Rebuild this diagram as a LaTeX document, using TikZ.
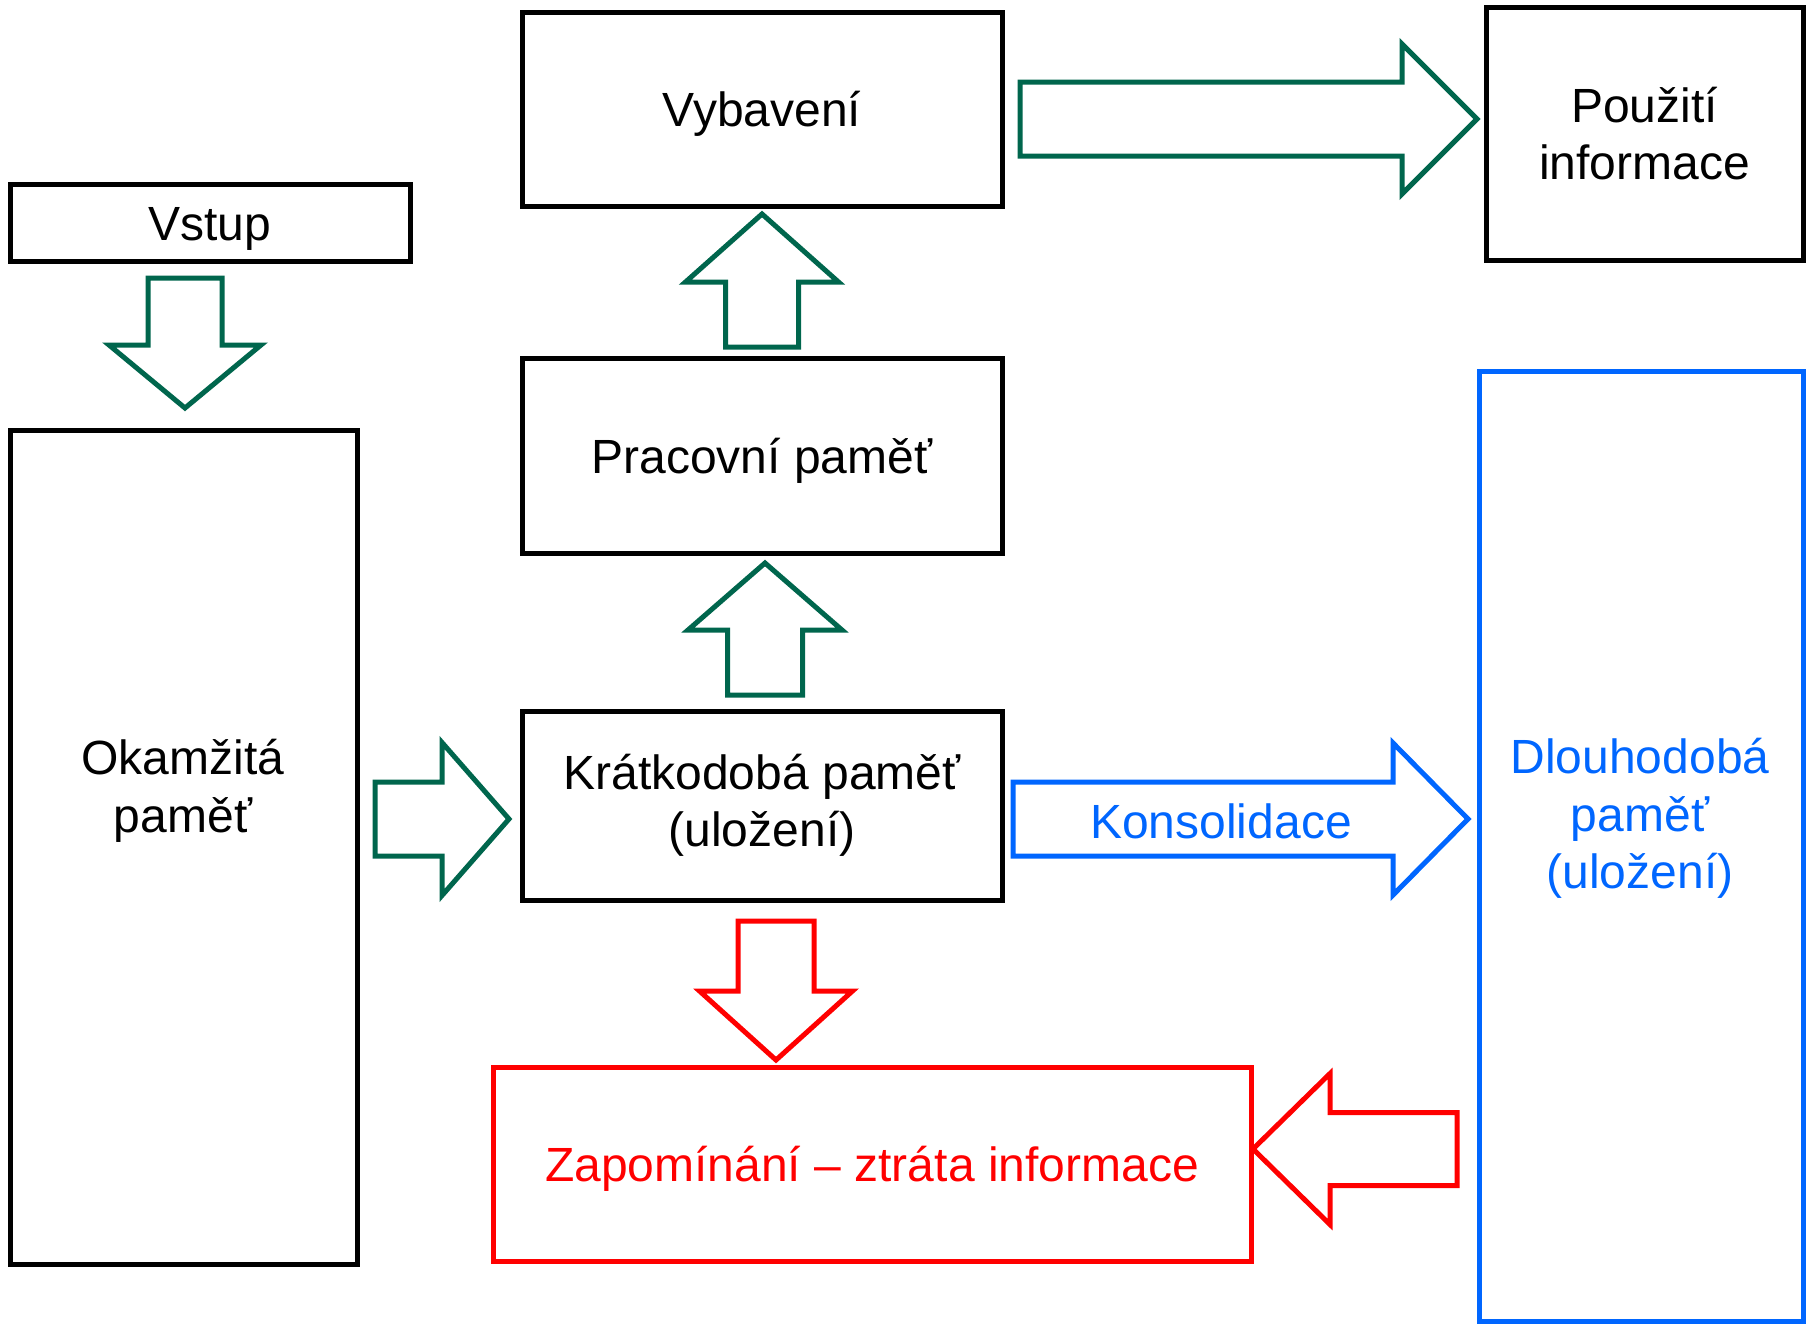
\documentclass[tikz,border=0pt]{standalone}
\usepackage{fontspec}
\setmainfont{Liberation Sans}
\definecolor{flowgreen}{RGB}{0,102,77}
\definecolor{keepblue}{RGB}{0,102,255}
\definecolor{lossred}{RGB}{255,0,0}
\tikzset{
  box/.style={draw=black, line width=5pt, inner sep=0pt, align=center},
  oneline/.style={text height=45pt, text depth=10pt},
  % hollow block arrow: length / shaft half width / head half width / head length
  pics/blockarrow/.style args={#1/#2/#3/#4}{
    code={\draw (0,-#2) -- ({#1-#4},-#2) -- ({#1-#4},-#3) -- (#1,0)
            -- ({#1-#4},#3) -- ({#1-#4},#2) -- (0,#2) -- cycle;}
  },
  greenarrow/.style={color=flowgreen, line width=5pt, line join=miter},
  bluearrow/.style={color=keepblue, line width=5pt, line join=miter},
  redarrow/.style={color=lossred, line width=5pt, line join=miter}
}
\begin{document}
\begin{tikzpicture}[x=1pt, y=-1pt, font=\fontsize{48}{57.5}\selectfont]
\useasboundingbox (0,0) rectangle (1806,1326);

% boxes
\node[box, oneline, minimum width=400, minimum height=77] (vstup) at (210,222.5) {Vstup};
\node[box, minimum width=347, minimum height=834] (okam) at (183.5,847) {};
\node (okamtext) at (183,791) [align=center] {Okamžitá\\paměť};
\node[box, oneline, minimum width=480, minimum height=194] (vybav) at (762,109) {Vybavení};
\node[box, oneline, minimum width=480, minimum height=195] (prac) at (762,455.5) {Pracovní paměť};
\node[box, minimum width=480, minimum height=189] (kratk) at (762,805.5) {Krátkodobá paměť\\(uložení)};
\node[box, minimum width=317, minimum height=253] (pouz) at (1644.5,133.5) {Použití\\informace};
\node[box, draw=keepblue, minimum width=324, minimum height=950] (dlouh) at (1641,846) {};
\node (dlouhtext) at (1640,818.5) [align=center, text=keepblue] {Dlouhodobá\\paměť\\(uložení)};
\node[box, oneline, draw=lossred, text=lossred, minimum width=758, minimum height=194] (zapom) at (872,1164) {Zapomínání – ztráta informace};

% flow arrows
\pic[greenarrow, rotate=-90] at (185,278) {blockarrow=130/37/76/63};
\pic[greenarrow] at (375,819) {blockarrow=134/37/76.5/67};
\pic[greenarrow, rotate=90] at (765,695) {blockarrow=132/37.5/77/67};
\pic[greenarrow, rotate=90] at (762,347) {blockarrow=133/36.5/76.5/68};
\pic[greenarrow] at (1020,119) {blockarrow=457/37/75/75};
\pic[bluearrow] at (1013,819) {blockarrow=455/37/76/75};
\node[oneline, text=keepblue] (konsol) at (1221,821) {Konsolidace};
\pic[redarrow, rotate=-90] at (776,921) {blockarrow=139/38/76.5/69};
\pic[redarrow, rotate=180] at (1457,1149) {blockarrow=204/36.5/75.5/77};
\end{tikzpicture}
\end{document}
